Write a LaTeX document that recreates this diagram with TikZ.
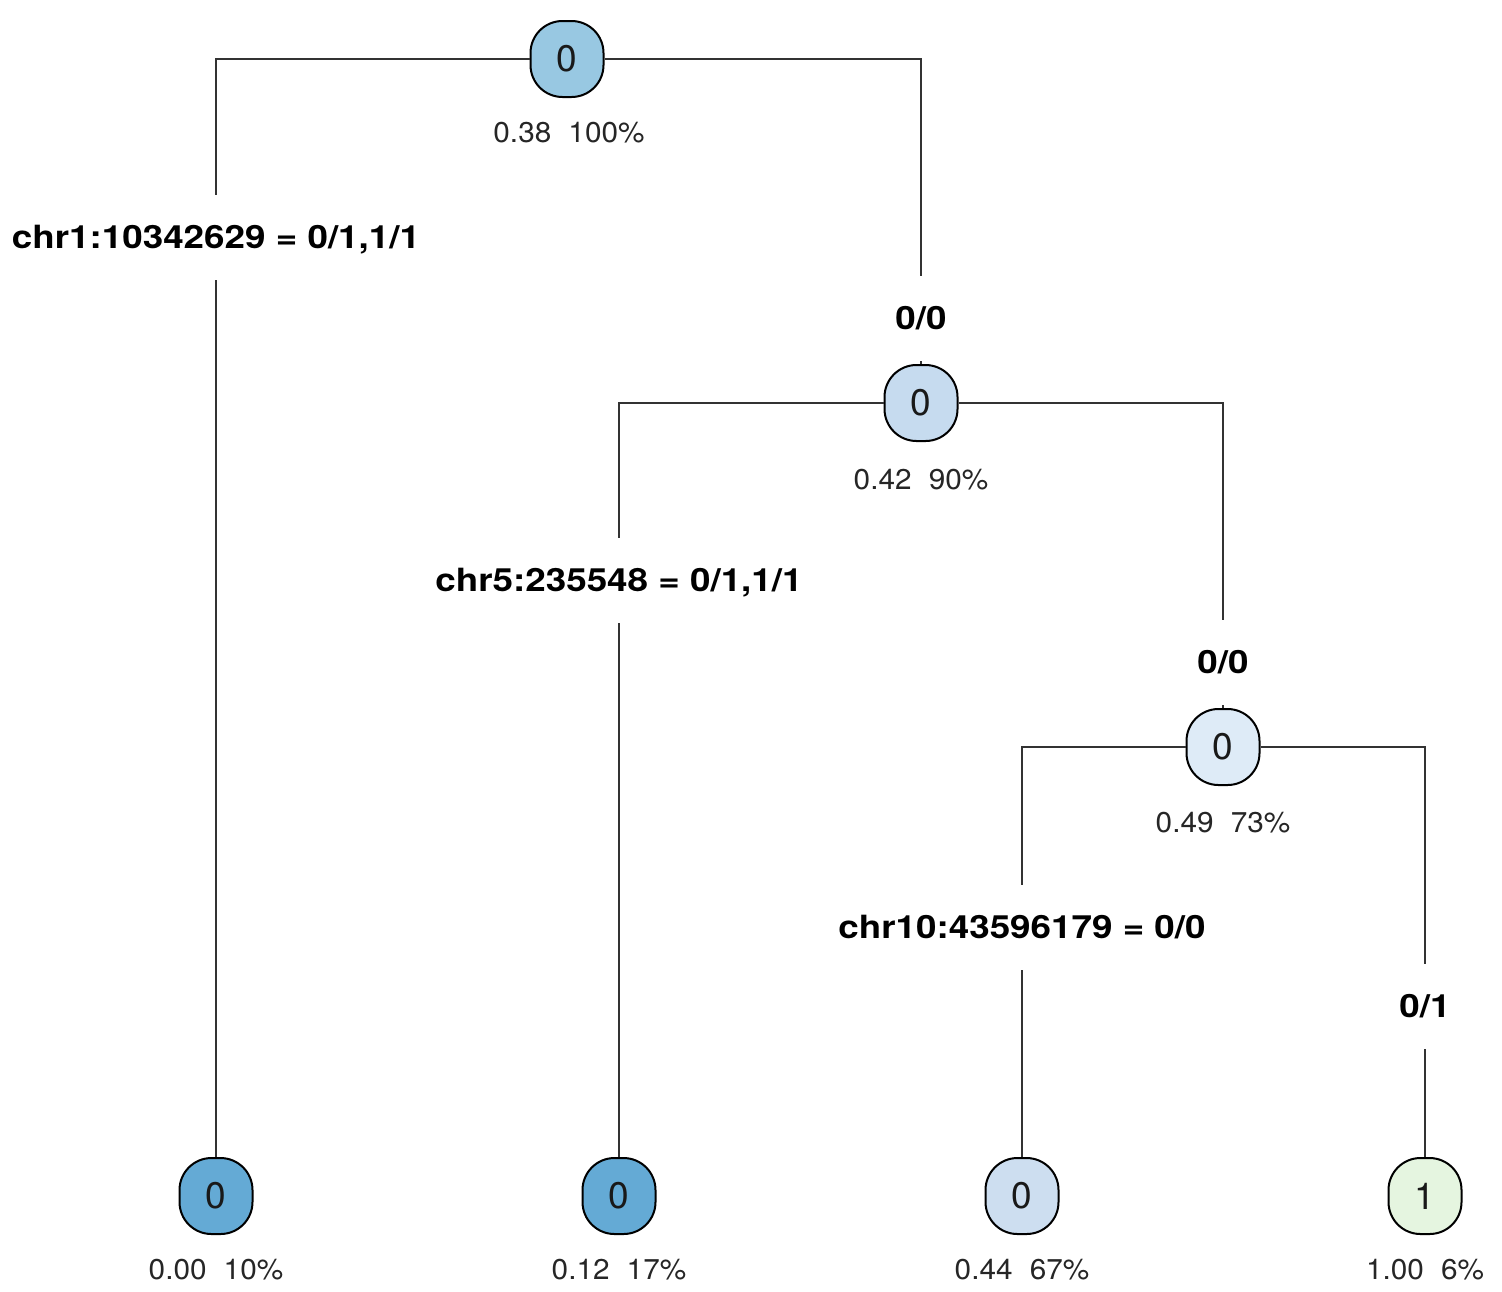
\documentclass[tikz,border=0pt]{standalone}
\usepackage{fontspec}
\setmainfont{TeX Gyre Heros}
\newfontfamily\lblfont[FakeStretch=1.15]{TeX Gyre Heros}
\newfontfamily\statfont[FakeStretch=1.04]{TeX Gyre Heros}
\definecolor{cRoot}{RGB}{152,200,226}
\definecolor{cMid}{RGB}{198,219,239}
\definecolor{cLight}{RGB}{222,235,247}
\definecolor{cDark}{RGB}{100,170,213}
\definecolor{cLeafC}{RGB}{205,222,240}
\definecolor{cGreen}{RGB}{229,245,224}
\begin{document}
\begin{tikzpicture}[x=0.5pt,y=-0.5pt,
  tnode/.style={draw=black, line width=1pt, rounded corners=16pt, minimum width=36.5pt, minimum height=38pt, inner sep=0pt, text=black!90, font=\fontsize{18.5}{20}\selectfont},
  splitlbl/.style={fill=white, font=\lblfont\bfseries\fontsize{16}{18}\selectfont, text height=11.5pt, text depth=0pt, inner ysep=15.5pt, inner xsep=2pt},
  stat/.style={text=black!85, font=\statfont\fontsize{14.3}{16}\selectfont},
  edge/.style={line width=0.8pt, draw=black!80}]
\useasboundingbox (0,0) rectangle (1502,1291);
% nodes
\node[tnode, fill=cRoot] (r) at (567,59) {0};
\node[tnode, fill=cMid] (n2) at (921,403) {0};
\node[tnode, fill=cLight] (n3) at (1223,747) {0};
\node[tnode, fill=cDark] (l1) at (216,1196) {0};
\node[tnode, fill=cDark] (l2) at (619,1196) {0};
\node[tnode, fill=cLeafC] (l3) at (1022,1196) {0};
\node[tnode, fill=cGreen] (l4) at (1425,1196) {1};
% connectors
\draw[edge] (r.west) -| (l1.north);
\draw[edge] (r.east) -| (n2.north);
\draw[edge] (n2.west) -| (l2.north);
\draw[edge] (n2.east) -| (n3.north);
\draw[edge] (n3.west) -| (l3.north);
\draw[edge] (n3.east) -| (l4.north);
% split labels
\node[splitlbl] (s1) at (216,237) {chr1:10342629 = 0/1,1/1};
\node[splitlbl] (s2) at (921,318) {0/0};
\node[splitlbl] (s3) at (619,580) {chr5:235548 = 0/1,1/1};
\node[splitlbl] (s4) at (1223,662) {0/0};
\node[splitlbl] (s5) at (1022,927) {chr10:43596179 = 0/0};
\node[splitlbl] (s6) at (1425,1006) {0/1};
% stats
\node[stat] (t1) at (569,133) {0.38\hspace{0.6em}100\%};
\node[stat] (t2) at (921,480) {0.42\hspace{0.6em}90\%};
\node[stat] (t3) at (1223,823) {0.49\hspace{0.6em}73\%};
\node[stat] (t4) at (216,1270) {0.00\hspace{0.6em}10\%};
\node[stat] (t5) at (619,1270) {0.12\hspace{0.6em}17\%};
\node[stat] (t6) at (1022,1270) {0.44\hspace{0.6em}67\%};
\node[stat] (t7) at (1425,1270) {1.00\hspace{0.6em}6\%};
\end{tikzpicture}
\end{document}
